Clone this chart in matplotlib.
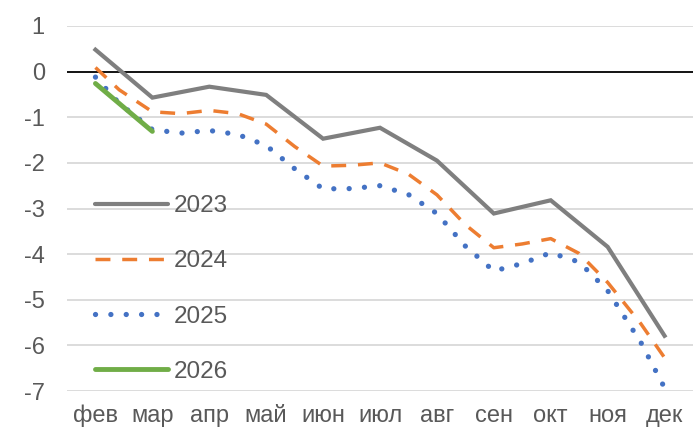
import matplotlib
matplotlib.use("Agg")
import matplotlib.pyplot as plt
from matplotlib.path import Path
from matplotlib.lines import Line2D
import numpy as np

months = ["фев", "мар", "апр", "май", "июн", "июл", "авг", "сен", "окт", "ноя", "дек"]
y2023 = [0.48, -0.57, -0.33, -0.51, -1.47, -1.23, -1.95, -3.11, -2.82, -3.84, -5.79]
y2024 = [0.09, -0.88, -0.85, -1.15, -2.07, -2.0, -2.7, -3.86, -3.66, -4.62, -6.27]
y2025 = [-0.12, -1.27, -1.29, -1.62, -2.57, -2.5, -3.11, -4.37, -3.97, -4.8, -6.93]
y2026 = [-0.26, -1.31]
yticks = [1, 0, -1, -2, -3, -4, -5, -6, -7]

plt.rcParams['font.family'] = ['Liberation Sans', 'DejaVu Sans']

fig = plt.figure(figsize=(6.97, 4.32), dpi=100)
ax = fig.add_axes([67/697, 41/432, 626/697, 365/432])

def smooth_line(xs, ys):
    # Excel-like smoothed line: Bezier segments through the data points,
    # flattened by matplotlib's own path machinery
    pts = np.column_stack([xs, ys]).astype(float)
    n = len(pts)
    verts = [pts[0]]
    codes = [Path.MOVETO]
    for i in range(n - 1):
        p0 = pts[i - 1] if i > 0 else pts[i]
        p1 = pts[i]
        p2 = pts[i + 1]
        p3 = pts[i + 2] if i + 2 < n else pts[i + 1]
        verts += [p1 + (p2 - p0) / 6.0, p2 - (p3 - p1) / 6.0, p2]
        codes += [Path.CURVE4] * 3
    poly = Path(verts, codes).to_polygons(closed_only=False)[0]
    return poly[:, 0], poly[:, 1]

x = np.arange(len(months))

for yv in yticks:
    if yv == 0:
        ax.axhline(0, color='black', lw=1.3, zorder=2)
    else:
        ax.axhline(yv, color='#d9d9d9', lw=1.3, zorder=1)

c23, c24, c25, c26 = '#7f7f7f', '#ed7d31', '#4472c4', '#70ad47'
ls24 = (0, (4.3, 3.4))
ls25 = (0, (0.01, 2.9))

ax.plot(x, y2023, color=c23, lw=3.0, solid_joinstyle='miter', zorder=3)
sx, sy = smooth_line(x, y2024)
ax.plot(sx, sy, color=c24, lw=2.5, linestyle=ls24, dash_capstyle='butt', zorder=3)
sx, sy = smooth_line(x, y2025)
ax.plot(sx, sy, color=c25, lw=3.8, linestyle=ls25, dash_capstyle='round', zorder=3)
ax.plot(x[:len(y2026)], y2026, color=c26, lw=3.5, solid_capstyle='round', zorder=4)

ax.set_xlim(-0.5, len(months) - 0.5)
ax.set_ylim(-7, 1)
ax.set_xticks(x)
ax.set_xticklabels(months)
ax.set_yticks(yticks)
ax.set_yticklabels([str(v) if v >= 0 else '-' + str(-v) for v in yticks])
ax.tick_params(length=0, labelsize=17, colors='#595959', pad=10)
ax.tick_params(axis='y', pad=16)
for s in ax.spines.values():
    s.set_visible(False)
ax.set_facecolor('none')

handles = [
    Line2D([], [], color=c23, lw=3.0, solid_capstyle='round'),
    Line2D([], [], color=c24, lw=2.5, linestyle=ls24, dash_capstyle='butt'),
    Line2D([], [], color=c25, lw=3.8, linestyle=ls25, dash_capstyle='round'),
    Line2D([], [], color=c26, lw=3.5, solid_capstyle='round'),
]
leg = ax.legend(handles, ["2023", "2024", "2025", "2026"], loc='upper left',
                bbox_to_anchor=(28/626, (391-195)/365), frameon=False,
                fontsize=17.5, handlelength=3.0, handletextpad=0.25,
                labelspacing=1.37, borderaxespad=0, borderpad=0)
for t in leg.get_texts():
    t.set_color('#595959')

fig.savefig("out.png", dpi=100)
